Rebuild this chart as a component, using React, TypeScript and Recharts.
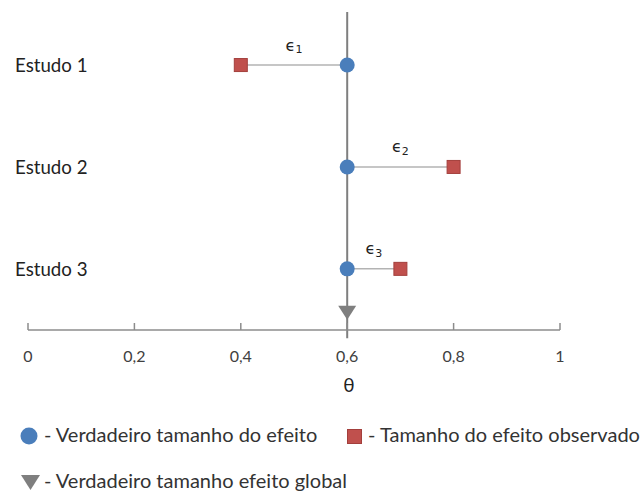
import React from "react";
import {
  ComposedChart,
  Scatter,
  XAxis,
  YAxis,
  ReferenceLine,
} from "recharts";

const studies = ["Estudo 1", "Estudo 2", "Estudo 3"];
const rows = [3, 2, 1];
const trueEffect = [0.6, 0.6, 0.6];
const observedEffect = [0.4, 0.8, 0.7];
const errorLabels = ["1", "2", "3"];
const globalEffect = 0.6;
const globalRow = 0.57;
const xTicks = [0, 0.2, 0.4, 0.6, 0.8, 1];

const trueData = rows.map((y, i) => ({ x: trueEffect[i], y }));
const obsData = rows.map((y, i) => ({ x: observedEffect[i], y }));
const labelData = rows.map((y, i) => ({
  x: (trueEffect[i] + observedEffect[i]) / 2,
  y,
  sub: errorLabels[i],
}));
const globalData = [{ x: globalEffect, y: globalRow }];

const FONT = "Lato, 'Open Sans', sans-serif";
const BLUE = "#4a7ebb";
const RED = "#c0504d";
const GREY = "#7f7f7f";

const fmt = (v: number) => String(v).replace(".", ",");

const XTick = (props: any) => {
  const { x, y, payload } = props;
  return (
    <g>
      <line x1={x} x2={x} y1={y} y2={y - 7} stroke="#8c8c8c" strokeWidth={1.5} />
      <text x={x} y={y + 25} textAnchor="middle" dominantBaseline="central"
        fontFamily={FONT} fontSize={16} fill="#404040">
        {fmt(payload.value)}
      </text>
    </g>
  );
};

const YTick = (props: any) => {
  const { y, payload } = props;
  const i = rows.indexOf(payload.value);
  return (
    <text x={15} y={y} textAnchor="start" dominantBaseline="central"
      fontFamily={FONT} fontSize={18.7} fill="#222">
      {studies[i]}
    </text>
  );
};

const Dot = (p: any) => <circle cx={p.cx} cy={p.cy} r={7.5} fill={BLUE} />;
const Square = (p: any) => (
  <rect x={p.cx - 6.5} y={p.cy - 6.5} width={13} height={13} fill={RED} stroke="#a33f3c" strokeWidth={1} />
);
const Tri = (p: any) => (
  <path d={`M${p.cx - 9},${p.cy - 7} L${p.cx + 9},${p.cy - 7} L${p.cx},${p.cy + 7} Z`} fill={GREY} />
);
const EpsLabel = (p: any) => (
  <text x={p.cx} y={p.cy - 20} textAnchor="middle" dominantBaseline="central"
    fontFamily="'DejaVu Sans', sans-serif" fontSize={16} fill="#222">
    {"\u03f5"}
    <tspan fontSize={11} dy={4}>{p.payload.sub}</tspan>
  </text>
);

export default function App() {
  return (
    <div style={{ position: "absolute", left: 0, top: 0, width: 642, height: 495, background: "#fff" }}>
      <ComposedChart width={642} height={400} margin={{ top: 9, right: 82, bottom: 0, left: 0 }}>
        <XAxis type="number" dataKey="x" domain={[0, 1]} ticks={xTicks} height={70}
          tickSize={0} tickMargin={0} tick={<XTick />} axisLine={{ stroke: "#8c8c8c", strokeWidth: 1.5 }}
          label={{ value: "\u03b8", position: "insideTop", dy: 44, dx: 55, fontFamily: FONT, fontSize: 19, fill: "#222" }} />
        <YAxis type="number" dataKey="y" domain={[0.4, 3.55]} ticks={rows} width={28}
          axisLine={false} tickLine={false} tick={<YTick />} />
        <ReferenceLine segment={[{ x: globalEffect, y: 0.32 }, { x: globalEffect, y: 3.52 }]}
          stroke={GREY} strokeWidth={2} ifOverflow="visible" />
        {rows.map((y, i) => (
          <ReferenceLine key={i} segment={[{ x: trueEffect[i], y }, { x: observedEffect[i], y }]}
            stroke="#b3b3b3" strokeWidth={1.5} ifOverflow="visible" />
        ))}
        <Scatter data={globalData} shape={<Tri />} isAnimationActive={false} />
        <Scatter data={obsData} shape={<Square />} isAnimationActive={false} />
        <Scatter data={trueData} shape={<Dot />} isAnimationActive={false} />
        <Scatter data={labelData} shape={<EpsLabel />} isAnimationActive={false} />
      </ComposedChart>
      <div style={{ position: "absolute", left: 0, top: 0, fontFamily: FONT, fontSize: 20, color: "#333" }}>
        <svg style={{ position: "absolute", left: 20, top: 427 }} width={18} height={18}>
          <circle cx={9} cy={9} r={8.5} fill={BLUE} />
        </svg>
        <div style={{ position: "absolute", left: 44, top: 422, whiteSpace: "nowrap" }}>- Verdadeiro tamanho do efeito</div>
        <svg style={{ position: "absolute", left: 347, top: 429 }} width={15} height={15}>
          <rect x={0.5} y={0.5} width={14} height={14} fill={RED} stroke="#a33f3c" />
        </svg>
        <div style={{ position: "absolute", left: 368, top: 422, whiteSpace: "nowrap" }}>- Tamanho do efeito observado</div>
        <svg style={{ position: "absolute", left: 21, top: 475 }} width={19} height={15}>
          <path d="M0,0 L19,0 L9.5,15 Z" fill={GREY} />
        </svg>
        <div style={{ position: "absolute", left: 44, top: 468, whiteSpace: "nowrap" }}>- Verdadeiro tamanho efeito global</div>
      </div>
    </div>
  );
}
